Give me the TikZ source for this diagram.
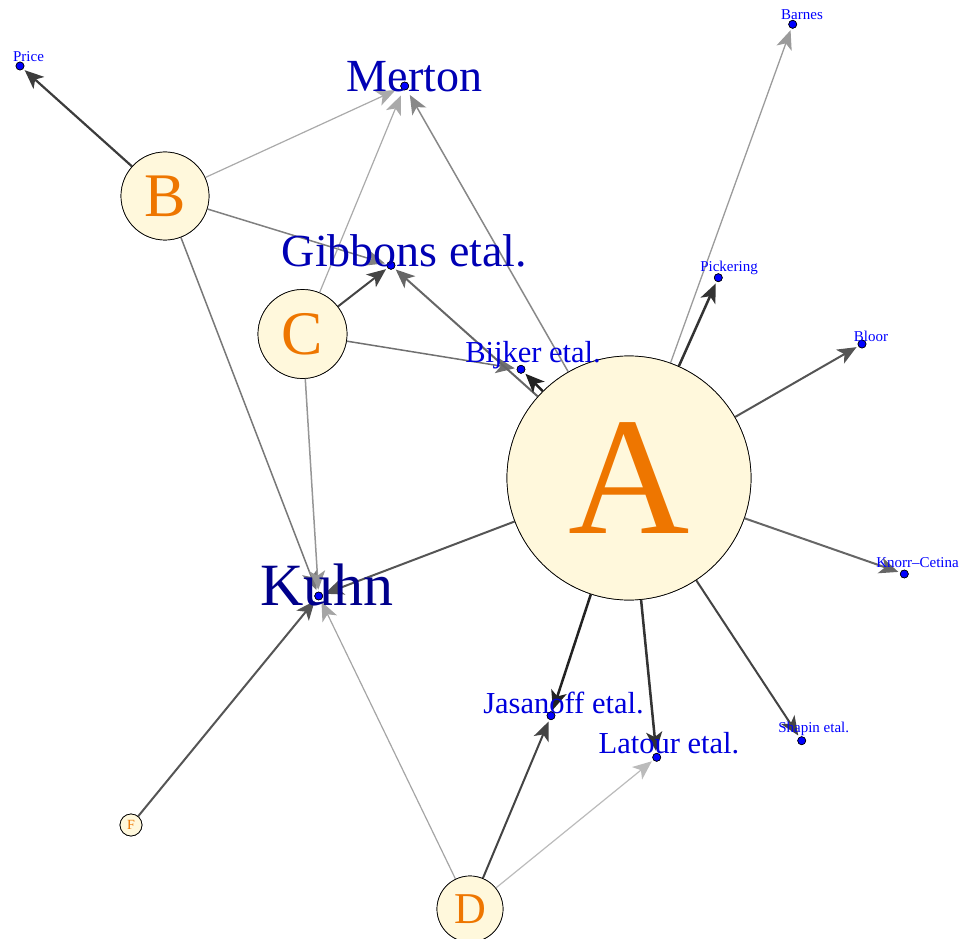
\documentclass[tikz,border=0pt]{standalone}
\usepackage{fontspec}
\setmainfont{Liberation Serif}
\usetikzlibrary{arrows.meta}
\definecolor{vfill}{HTML}{FFF8DC}
\definecolor{vorange}{HTML}{EE7600}
\definecolor{lblA}{HTML}{00008B}
\definecolor{lblB}{HTML}{0000B4}
\definecolor{lblC}{HTML}{0000DD}
\definecolor{lblD}{HTML}{0000FF}
\tikzset{
  bignode/.style={circle, draw=black, line width=0.7pt, fill=vfill, text=vorange, inner sep=0pt},
  dotnode/.style={circle, draw=black, line width=0.6pt, fill=blue, inner sep=0pt, minimum size=8pt},
  lbl/.style={anchor=base, inner sep=0pt},
  edg/.style={-{Stealth[length=19pt,width=16pt,inset=5pt]}, shorten >=2pt},
}
\newcommand{\fsz}[1]{\fontsize{#1}{#1}\selectfont}
\begin{document}
\begin{tikzpicture}[x=1pt,y=-1pt]
\useasboundingbox (0,0) rectangle (962,939);
\clip (0,0) rectangle (962,939);
% vertices
\node[bignode, minimum size=244pt] (A) at (629,478) {};
\node[bignode, minimum size=88pt] (B) at (165,196) {};
\node[bignode, minimum size=89pt] (C) at (302.5,334) {};
\node[bignode, minimum size=66pt] (D) at (470,909) {};
\node[bignode, minimum size=22pt] (F) at (131,825) {};
\node[dotnode] (price) at (20,66) {};
\node[dotnode] (merton) at (404.7,86) {};
\node[dotnode] (gibbons) at (391,265.3) {};
\node[dotnode] (bijker) at (521,369.3) {};
\node[dotnode] (barnes) at (792.7,24.3) {};
\node[dotnode] (pickering) at (718.3,277.7) {};
\node[dotnode] (bloor) at (862,344) {};
\node[dotnode] (knorr) at (904.3,574) {};
\node[dotnode] (shapin) at (801.7,740.7) {};
\node[dotnode] (jasanoff) at (551,715.7) {};
\node[dotnode] (latour) at (656.7,757.3) {};
\node[dotnode] (kuhn) at (318.7,596) {};
% edges
\path[edg, draw={rgb,255:red,60;green,60;blue,60}, line width=2.2pt] (B) -- (price);
\path[edg, draw={rgb,255:red,170;green,170;blue,170}, line width=1.2pt, shorten >=6pt] (B) -- (merton);
\path[edg, draw={rgb,255:red,128;green,128;blue,128}, line width=1.5pt] (B) -- (gibbons);
\path[edg, draw={rgb,255:red,120;green,120;blue,120}, line width=1.5pt] (B) -- (kuhn);
\path[edg, draw={rgb,255:red,170;green,170;blue,170}, line width=1.2pt, shorten >=6pt] (C) -- (merton);
\path[edg, draw={rgb,255:red,68;green,68;blue,68}, line width=2pt] (C) -- (gibbons);
\path[edg, draw={rgb,255:red,112;green,112;blue,112}, line width=1.5pt] (C) -- (bijker);
\path[edg, draw={rgb,255:red,150;green,150;blue,150}, line width=1.5pt] (C) -- (kuhn);
\path[edg, draw={rgb,255:red,136;green,136;blue,136}, line width=1.5pt, shorten >=6pt] (A) -- (merton);
\path[edg, draw={rgb,255:red,102;green,102;blue,102}, line width=2pt] (A) -- (gibbons);
\path[edg, draw={rgb,255:red,34;green,34;blue,34}, line width=2.5pt] (A) -- (bijker);
\path[edg, draw={rgb,255:red,155;green,155;blue,155}, line width=1.3pt] (A) -- (barnes);
\path[edg, draw={rgb,255:red,51;green,51;blue,51}, line width=2.5pt] (A) -- (pickering);
\path[edg, draw={rgb,255:red,85;green,85;blue,85}, line width=2pt] (A) -- (bloor);
\path[edg, draw={rgb,255:red,102;green,102;blue,102}, line width=2pt] (A) -- (knorr);
\path[edg, draw={rgb,255:red,68;green,68;blue,68}, line width=2pt] (A) -- (shapin);
\path[edg, draw={rgb,255:red,51;green,51;blue,51}, line width=2.5pt] (A) -- (latour);
\path[edg, draw={rgb,255:red,34;green,34;blue,34}, line width=2.5pt] (A) -- (jasanoff);
\path[edg, draw={rgb,255:red,85;green,85;blue,85}, line width=2pt] (A) -- (kuhn);
\path[edg, draw={rgb,255:red,68;green,68;blue,68}, line width=2pt] (D) -- (jasanoff);
\path[edg, draw={rgb,255:red,187;green,187;blue,187}, line width=1.2pt] (D) -- (latour);
\path[edg, draw={rgb,255:red,165;green,165;blue,165}, line width=1.2pt] (D) -- (kuhn);
\path[edg, draw={rgb,255:red,85;green,85;blue,85}, line width=2pt] (F) -- (kuhn);
% redraw vertices on top of edges
\node[bignode, minimum size=244pt] (A2) at (A) {\fsz{168}A};
\node[bignode, minimum size=88pt] (B2) at (B) {\fsz{62}B};
\node[bignode, minimum size=89pt] (C2) at (C) {\fsz{62}C};
\node[bignode, minimum size=66pt] (D2) at (D) {\fsz{44}D};
\node[bignode, minimum size=22pt] (F2) at (F) {\fsz{14}F};
\foreach \p in {price,merton,gibbons,bijker,barnes,pickering,bloor,knorr,shapin,jasanoff,latour,kuhn}
  \node[dotnode] (\p2) at (\p) {};
% labels
\node[lbl, text=lblB] (lmerton) at (414.5,92) {\fsz{46}Merton};
\node[lbl, text=lblB] (lgibbons) at (404.5,266) {\fsz{46}Gibbons etal.};
\node[lbl, text=lblA] (lkuhn) at (327,605) {\fsz{60}Kuhn};
\node[lbl, text=lblC] (lbijker) at (533,362) {\fsz{30.5}Bijker etal.};
\node[lbl, text=lblC] (ljasanoff) at (563.5,713) {\fsz{30.5}Jasanoff etal.};
\node[lbl, text=lblC] (llatour) at (669,753) {\fsz{30.5}Latour etal.};
\node[lbl, text=lblD] (lprice) at (28.5,62) {\fsz{15}Price};
\node[lbl, text=lblD] (lbarnes) at (802,20) {\fsz{15}Barnes};
\node[lbl, text=lblD] (lpickering) at (729,271) {\fsz{15}Pickering};
\node[lbl, text=lblD] (lbloor) at (871,341) {\fsz{15}Bloor};
\node[lbl, text=lblD] (lknorr) at (917.5,567) {\fsz{15}Knorr–Cetina};
\node[lbl, text=lblD] (lshapin) at (813.7,732) {\fsz{15}Shapin etal.};
\end{tikzpicture}
\end{document}
